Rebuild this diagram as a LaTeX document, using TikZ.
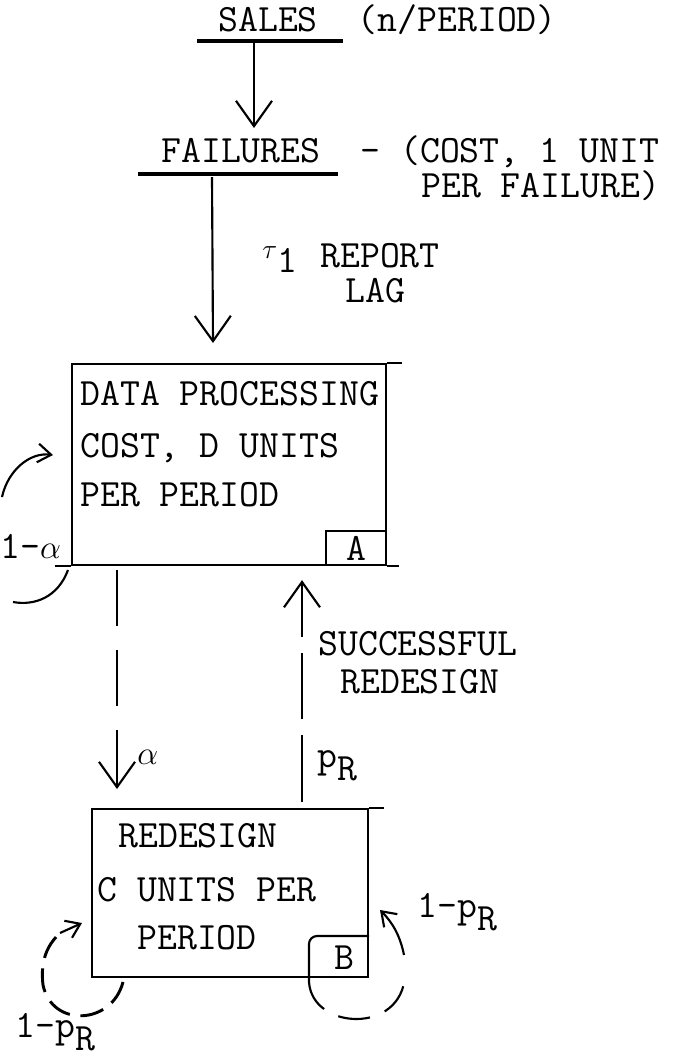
\documentclass[tikz,border=0pt]{standalone}
\usepackage{fontspec}
\usetikzlibrary{arrows.meta,calc}
\begin{document}
\begin{tikzpicture}[x=0.75pt,y=-0.75pt,
  tx/.style={font=\ttfamily\fontsize{29}{29}\selectfont, inner sep=0pt, anchor=base west},
  ln/.style={line width=1.6pt},
  bar/.style={line width=3pt},
  barb/.style={-{Straight Barb[length=19pt,width=27pt]}},
  sbarb/.style={-{Straight Barb[length=10pt,width=14pt]}},
  boxstyle/.style={draw, ln, inner sep=0pt, anchor=north west},
  gr/.style={font=\fontsize{24}{24}\selectfont}
]
\useasboundingbox (0,0) rectangle (677,1057);

% top: sales
\node[tx] (sales) at (218,31) {SALES\ \ (n/PERIOD)};
\coordinate (sbarL) at (197,41);
\coordinate (sbarR) at (343,41);
\draw[bar] (sbarL) -- (sbarR);
\coordinate (sArrS) at (254,43);
\coordinate (sArrE) at (254,128);
\draw[ln,barb] (sArrS) -- (sArrE);

% failures
\node[tx] (fail) at (161,162) {FAILURES\ \ - (COST, 1 UNIT};
\node[tx] (fail2) at (421,197) {PER FAILURE)};
\coordinate (fbarL) at (138,174);
\coordinate (fbarR) at (338,174);
\draw[bar] (fbarL) -- (fbarR);
\coordinate (fArrS) at (212,177);

% lag label
\node[tx] (tau) at (262,272) {{\fontsize{20}{20}\selectfont\raisebox{10pt}{$\tau$}}1};
\node[tx] (rep) at (320,267) {REPORT};
\node[tx] (lag) at (345,302) {LAG};

% box A
\node[boxstyle, minimum width=235.5pt, minimum height=150.75pt] (boxA) at (71,363) {};
\draw[ln] (boxA.north east) -- ++(15,0);
\draw[ln] (boxA.south west) -- ++(-16,0);
\draw[ln] (boxA.south east) -- ++(12,0);
\node[tx] (a1) at (80,405) {DATA PROCESSING};
\node[tx] (a2) at (80,457) {COST, D UNITS};
\node[tx] (a3) at (80,506) {PER PERIOD};
\node[draw, ln, inner sep=0pt, anchor=south east, minimum width=45pt, minimum height=25.5pt,
      font=\ttfamily\fontsize{29}{29}\selectfont] (smallA) at (boxA.south east) {A};

\draw[ln,barb] (fArrS) -- ($(boxA.north west)+(142,-20)$);

% self loop on A
\node[tx] (oneAlpha) at (0,558) {1-{\fontsize{24}{24}\selectfont$\alpha$}};
\draw[ln] (68,570) .. controls (58,597) and (35,606) .. (13,602);
\draw[ln,sbarb] (2,497) .. controls (8,470) and (30,452) .. (53,455);

% box B
\node[boxstyle, minimum width=207pt, minimum height=126pt] (boxB) at (91,808) {};
\draw[ln] (boxB.north east) -- ++(15,0);
\node[tx] (b1) at (118,847) {REDESIGN};
\node[tx] (b2) at (97,901) {C UNITS PER};
\node[tx] (b3) at (137,949) {PERIOD};
\draw[ln, rounded corners=6pt] (309,982) -- (309,936) -- (boxB.east |- 0,936);
\node[font=\ttfamily\fontsize{29}{29}\selectfont, inner sep=0pt] (labB) at (344,958) {B};

% A -> B (alpha)
\draw[ln, barb, dash pattern=on 42pt off 18pt]
  ($(boxA.south west)+(46,4)$) -- ($(boxB.north west)+(26,-19)$);
\node[tx,gr] (alpha) at (137,764) {$\alpha$};

% B -> A (p_R)
\draw[ln, barb, dash pattern=on 50pt off 12pt]
  ($(boxB.north west)+(211,-6)$) -- ($(boxA.south west)+(231,14)$);
\node[tx] (succ) at (318,655) {SUCCESSFUL};
\node[tx] (redes) at (340,693) {REDESIGN};
\node[tx] (pR) at (317,767) {p\raisebox{-10pt}{R}};

% left loop of B
\draw[line width=2.2pt, dash pattern=on 18pt off 8pt] (123,982) .. controls (112,1025) and (52,1028) .. (43,985) .. controls (40,960) and (48,945) .. (58,935);
\draw[ln, sbarb] (60,933) -- (82,923);
\node[tx] (onepL) at (15,1037) {1-p\raisebox{-10pt}{R}};

% right loop of B
\draw[ln, dash pattern=on 24pt off 12pt] (309,982) .. controls (312,1030) and (402,1035) .. (405,975);
\draw[ln, sbarb] (404,955) .. controls (400,935) and (392,922) .. (380,910);
\node[tx] (onepR) at (417,917) {1-p\raisebox{-10pt}{R}};
\end{tikzpicture}
\end{document}
